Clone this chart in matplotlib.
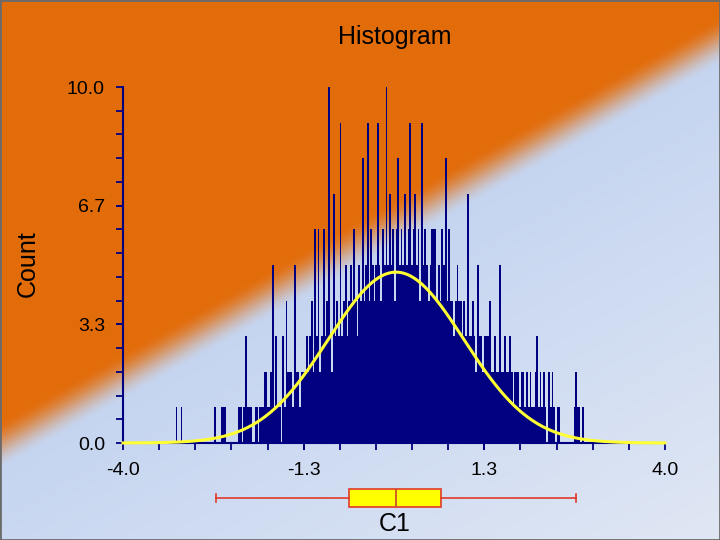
import numpy as np
import matplotlib
matplotlib.use("Agg")
import matplotlib.pyplot as plt
from matplotlib.patches import Rectangle

plt.rcParams["font.family"] = ["Liberation Sans", "DejaVu Sans"]

# histogram of C1: bins of width 0.025 starting at -3.25
bin_start = -3.25
bin_width = 0.025
counts = [
    0, 1, 0, 0, 1, 0, 0, 0, 0, 0, 0, 0, 0, 0, 0, 0, 0, 0, 0, 0,
    0, 0, 0, 0, 1, 0, 0, 0, 1, 1, 1, 0, 0, 0, 0, 0, 0, 0, 1, 1,
    0, 1, 3, 1, 1, 1, 0, 0, 1, 1, 1, 1, 1, 2, 2, 1, 1, 2, 5, 1,
    3, 1, 1, 0, 3, 1, 4, 2, 2, 2, 1, 5, 2, 2, 1, 2, 2, 2, 3, 2,
    3, 4, 2, 6, 3, 6, 2, 3, 6, 3, 4, 10, 3, 2, 7, 3, 4, 3, 9, 3,
    4, 5, 3, 4, 5, 4, 6, 4, 3, 5, 4, 8, 4, 5, 9, 4, 6, 5, 4, 5,
    9, 5, 4, 6, 5, 10, 5, 7, 5, 6, 4, 6, 8, 5, 6, 5, 7, 5, 6, 9,
    5, 6, 7, 5, 6, 4, 9, 5, 6, 5, 4, 5, 6, 6, 6, 4, 5, 4, 6, 5,
    8, 4, 6, 4, 4, 3, 4, 5, 4, 4, 3, 4, 3, 7, 3, 3, 4, 3, 2, 5,
    3, 3, 2, 3, 3, 3, 4, 2, 2, 3, 2, 2, 5, 2, 2, 3, 2, 2, 3, 2,
    1, 2, 2, 2, 1, 2, 2, 1, 2, 1, 2, 1, 1, 2, 3, 1, 2, 1, 2, 1,
    0, 2, 1, 2, 1, 0, 1, 1, 0, 0, 0, 0, 0, 0, 0, 0, 1, 2, 1, 1,
    0, 1,
]

# fitted normal curve
curve_mean = 0.03
curve_sd = 1.0
curve_peak = 4.8

# box plot summary
box_q1 = -0.66
box_median = 0.03
box_q3 = 0.69
whisker_low = -2.63
whisker_high = 2.69

x_ticks_major = [-4.0, -1.333, 1.333, 4.0]
x_tick_labels = ["-4.0", "-1.3", "1.3", "4.0"]
y_ticks_major = [0.0, 3.333, 6.667, 10.0]
y_tick_labels = ["0.0", "3.3", "6.7", "10.0"]

counts = np.array(counts, dtype=float)
edges = bin_start + bin_width * np.arange(len(counts) + 1)

fig = plt.figure(figsize=(7.2, 5.4), dpi=100)

# background: orange upper left, light blue lower right
H, W = 540, 720
yy, xx = np.mgrid[0:H, 0:W]
nx, ny = 405.0, 720.0
norm = np.hypot(nx, ny)
d = (xx * nx + (yy - 445) * ny) / norm
t = np.clip((d + 22) / 44, 0, 1)
t = t * t * (3 - 2 * t)
orange = np.array([227, 108, 10]) / 255
blue_a = np.array([196, 212, 240]) / 255
blue_b = np.array([224, 231, 244]) / 255
s = np.clip(d / 436, 0, 1)[..., None]
blue = blue_a * (1 - s) + blue_b * s
img = orange * (1 - t[..., None]) + blue * t[..., None]
bg = fig.add_axes([0, 0, 1, 1], zorder=-10)
bg.imshow(img, aspect="auto", extent=(0, 1, 0, 1), interpolation="bilinear")
bg.set_axis_off()
bg.add_patch(Rectangle((0, 0), 1, 1, transform=bg.transAxes, fill=False,
                       edgecolor="#6b6b6b", linewidth=2))

navy = "#000080"
ax = fig.add_axes([123 / 720, 1 - 443 / 540, 542 / 720, 356 / 540])
ax.patch.set_alpha(0)
ax.bar(edges[:-1], counts, width=bin_width, align="edge", color=navy,
       linewidth=0)
cx = np.linspace(-4, 4, 600)
cy = curve_peak * np.exp(-0.5 * ((cx - curve_mean) / curve_sd) ** 2)
ax.plot(cx, cy, color="#ffff33", linewidth=2.2, zorder=5, clip_on=False)

ax.set_xlim(-4, 4)
ax.set_ylim(0, 10)
for side in ["top", "right"]:
    ax.spines[side].set_visible(False)
for side in ["left", "bottom"]:
    ax.spines[side].set_color(navy)
    ax.spines[side].set_linewidth(1.5)
ax.set_xticks(np.linspace(-4, 4, 16), minor=True)
ax.set_yticks(np.linspace(0, 10, 16), minor=True)
ax.set_xticks(x_ticks_major)
ax.set_xticklabels(x_tick_labels)
ax.set_yticks(y_ticks_major)
ax.set_yticklabels(y_tick_labels)
ax.tick_params(which="both", direction="out", length=5, width=1.3, color=navy)
ax.tick_params(axis="x", which="major", labelsize=14, pad=9)
ax.tick_params(axis="y", which="major", labelsize=14, pad=8)

# box plot under the axis
bx = fig.add_axes([123 / 720, 1 - 516 / 540, 542 / 720, 36 / 540])
bx.patch.set_alpha(0)
stats = [dict(med=box_median, q1=box_q1, q3=box_q3, whislo=whisker_low,
              whishi=whisker_high, fliers=[])]
red = "#e03a2a"
bx.bxp(stats, positions=[0], vert=False, widths=1.0, capwidths=0.45,
       patch_artist=True, showfliers=False,
       boxprops=dict(facecolor="#ffff00", edgecolor=red, linewidth=1.2),
       medianprops=dict(color="#c8462d", linewidth=1.2),
       whiskerprops=dict(color=red, linewidth=1.2),
       capprops=dict(color=red, linewidth=1.2))
bx.set_xlim(-4, 4)
bx.set_ylim(-1, 1)
bx.set_axis_off()

fig.text(395 / 720, 1 - 37 / 540, "Histogram", ha="center", va="center", fontsize=18)
fig.text(28 / 720, 1 - 264 / 540, "Count", ha="center", va="center",
         rotation=90, fontsize=18)
fig.text(395 / 720, 1 - 524 / 540, "C1", ha="center", va="center", fontsize=18)

fig.savefig("out.png", dpi=100)
